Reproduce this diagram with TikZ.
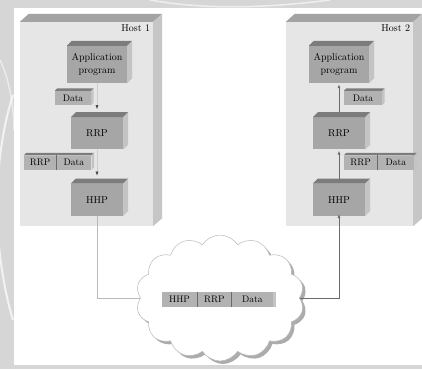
\documentclass[tikz,border=0pt]{standalone}
\usepackage{tikz}
\usetikzlibrary{shapes.symbols,shadows,arrows.meta,positioning,calc}
\definecolor{cHostF}{HTML}{E6E6E6}
\definecolor{cHostT}{HTML}{A3A3A3}
\definecolor{cHostS}{HTML}{C6C6C6}
\definecolor{cBlkF}{HTML}{A6A6A6}
\definecolor{cBlkT}{HTML}{7C7C7C}
\definecolor{cBlkS}{HTML}{C4C4C4}
\definecolor{cLblF}{HTML}{B2B2B2}
\definecolor{cLine}{HTML}{6A6A6A}
\definecolor{cBack}{HTML}{D6D6D6}
\tikzset{
  host/.style    = {rectangle, fill=cHostF, inner sep=0pt, minimum height=204pt},
  hostlbl/.style = {inner sep=0pt, font=\fontsize{10}{11}\selectfont},
  blk/.style     = {rectangle, fill=cBlkF, inner sep=0pt, align=center,
                    font=\fontsize{10}{12.5}\selectfont, minimum width=52pt, minimum height=32pt},
  lbl/.style     = {rectangle, fill=cLblF, inner sep=0pt,
                    font=\fontsize{9.5}{11}\selectfont, minimum height=14pt},
  div/.style     = {draw=cLine, line width=0.5pt},
  fl/.style      = {-{Latex[length=4pt,width=3pt]}, draw=cLine, line width=0.8pt},
  fll/.style     = {-{Latex[length=4pt,width=3pt,color=black!75]}, draw=gray!40, line width=0.5pt},
  ln/.style      = {draw=gray!55, line width=0.5pt},
  net/.style     = {cloud, cloud puffs=14, cloud puff arc=115, draw=gray!55, fill=white,
                    line width=0.5pt, minimum width=168pt, minimum height=126pt,
                    drop shadow={shadow xshift=3pt, shadow yshift=-3pt, fill=gray!65, opacity=1}},
}
% top and right faces of a box: node, dx, dy, top colour, side colour
\newcommand{\boxfaces}[5]{%
  \fill[#4] (#1.north west) -- ++(#2pt,#3pt) -- ([shift={(#2pt,#3pt)}]#1.north east) -- (#1.north east) -- cycle;
  \fill[#5] (#1.north east) -- ++(#2pt,#3pt) -- ([shift={(#2pt,#3pt)}]#1.south east) -- (#1.south east) -- cycle;
}
\newcommand{\topface}[4]{%
  \fill[#4] (#1.north west) -- ++(#2pt,#3pt) -- ([shift={(#2pt,#3pt)}]#1.north east) -- (#1.north east) -- cycle;
}

\begin{document}
\begin{tikzpicture}[x=1pt, y=-1pt]
  \useasboundingbox (0,0) rectangle (422,369);
  % slide background
  \fill[cBack] (0,0) rectangle (422,369);
  \draw[white, opacity=.7, line width=2pt] (13,95) .. controls (-8,160) and (-8,250) .. (13,320);
  \draw[white, opacity=.5, line width=1.5pt] (0,60) .. controls (10,80) and (14,110) .. (14,130);
  \draw[white, opacity=.6, line width=1.5pt] (150,0) .. controls (200,9) and (260,9) .. (330,0);
  \fill[white] (14,8) rectangle (422,365);

  % hosts
  \node[host, minimum width=133pt] (host1) at (86.5,124) {};
  \node[host, minimum width=127pt] (host2) at (349.5,124) {};
  \boxfaces{host1}{9}{8}{cHostT}{cHostS}
  \boxfaces{host2}{9}{8}{cHostT}{cHostS}
  \node[hostlbl, anchor=north east] (h1lbl) at ([shift={(-3pt,-3pt)}]host1.north east) {Host 1};
  \node[hostlbl, anchor=north east] (h2lbl) at ([shift={(-3pt,-3pt)}]host2.north east) {Host 2};

  % protocol stacks
  \node[blk, minimum width=60pt, minimum height=37pt] (app1) at (97,64.5) {Application\\program};
  \node[blk, below=34pt of app1] (rrp1) {RRP};
  \node[blk, below=34pt of rrp1] (hhp1) {HHP};
  \node[blk, minimum width=60pt, minimum height=37pt] (app2) at (339,64.5) {Application\\program};
  \node[blk, below=34pt of app2] (rrp2) {RRP};
  \node[blk, below=34pt of rrp2] (hhp2) {HHP};
  \foreach \n in {app1,rrp1,hhp1,app2,rrp2,hhp2}
    {\boxfaces{\n}{5}{5}{cBlkT}{cBlkS}}

  % headers
  \node[lbl, minimum width=36pt] (dat1) at (73,98) {Data};
  \node[lbl, minimum width=38pt] (dat2) at (363,98) {Data};
  \node[lbl, minimum width=32pt] (rrpl1) at (40,162.5) {RRP};
  \node[lbl, minimum width=35pt, right=0pt of rrpl1] (datl1) {Data};
  \node[lbl, minimum width=33pt] (rrpl2) at (360.5,162.5) {RRP};
  \node[lbl, minimum width=37pt, right=0pt of rrpl2] (datl2) {Data};
  \foreach \n in {dat1,dat2,datl1,datl2}
    {\boxfaces{\n}{2.5}{2.5}{cBlkT}{cBlkS}}
  \topface{rrpl1}{2.5}{2.5}{cBlkT}
  \topface{rrpl2}{2.5}{2.5}{cBlkT}
  \draw[div] (rrpl1.north east) -- (rrpl1.south east);
  \draw[div] (rrpl2.north east) -- (rrpl2.south east);

  \draw[fll, shorten >=8pt] (app1) -- (rrp1);
  \draw[fll, shorten >=8pt] (rrp1) -- (hhp1);
  \draw[fl, shorten <=5pt, shorten >=1pt] (rrp2) -- (app2);
  \draw[fl, shorten <=5pt, shorten >=1pt] (hhp2) -- (rrp2);

  % network
  \node[net] (net) at (220,298) {};
  \draw[ln] (hhp1.south) |- (net.west);
  \draw[fl, shorten >=-2pt] (net.east) -| (hhp2.south);

  \node[lbl, minimum width=35pt, minimum height=15pt] (hhpp) at (179.5,299.5) {HHP};
  \node[lbl, minimum width=34pt, minimum height=15pt, right=0pt of hhpp] (rrpp) {RRP};
  \node[lbl, minimum width=41pt, minimum height=15pt, right=0pt of rrpp] (datp) {Data};
  \fill[cBlkS] (datp.north east) rectangle ++(3pt,-15pt);
  \draw[div] (hhpp.north east) -- (hhpp.south east);
  \draw[div] (rrpp.north east) -- (rrpp.south east);
\end{tikzpicture}
\end{document}
